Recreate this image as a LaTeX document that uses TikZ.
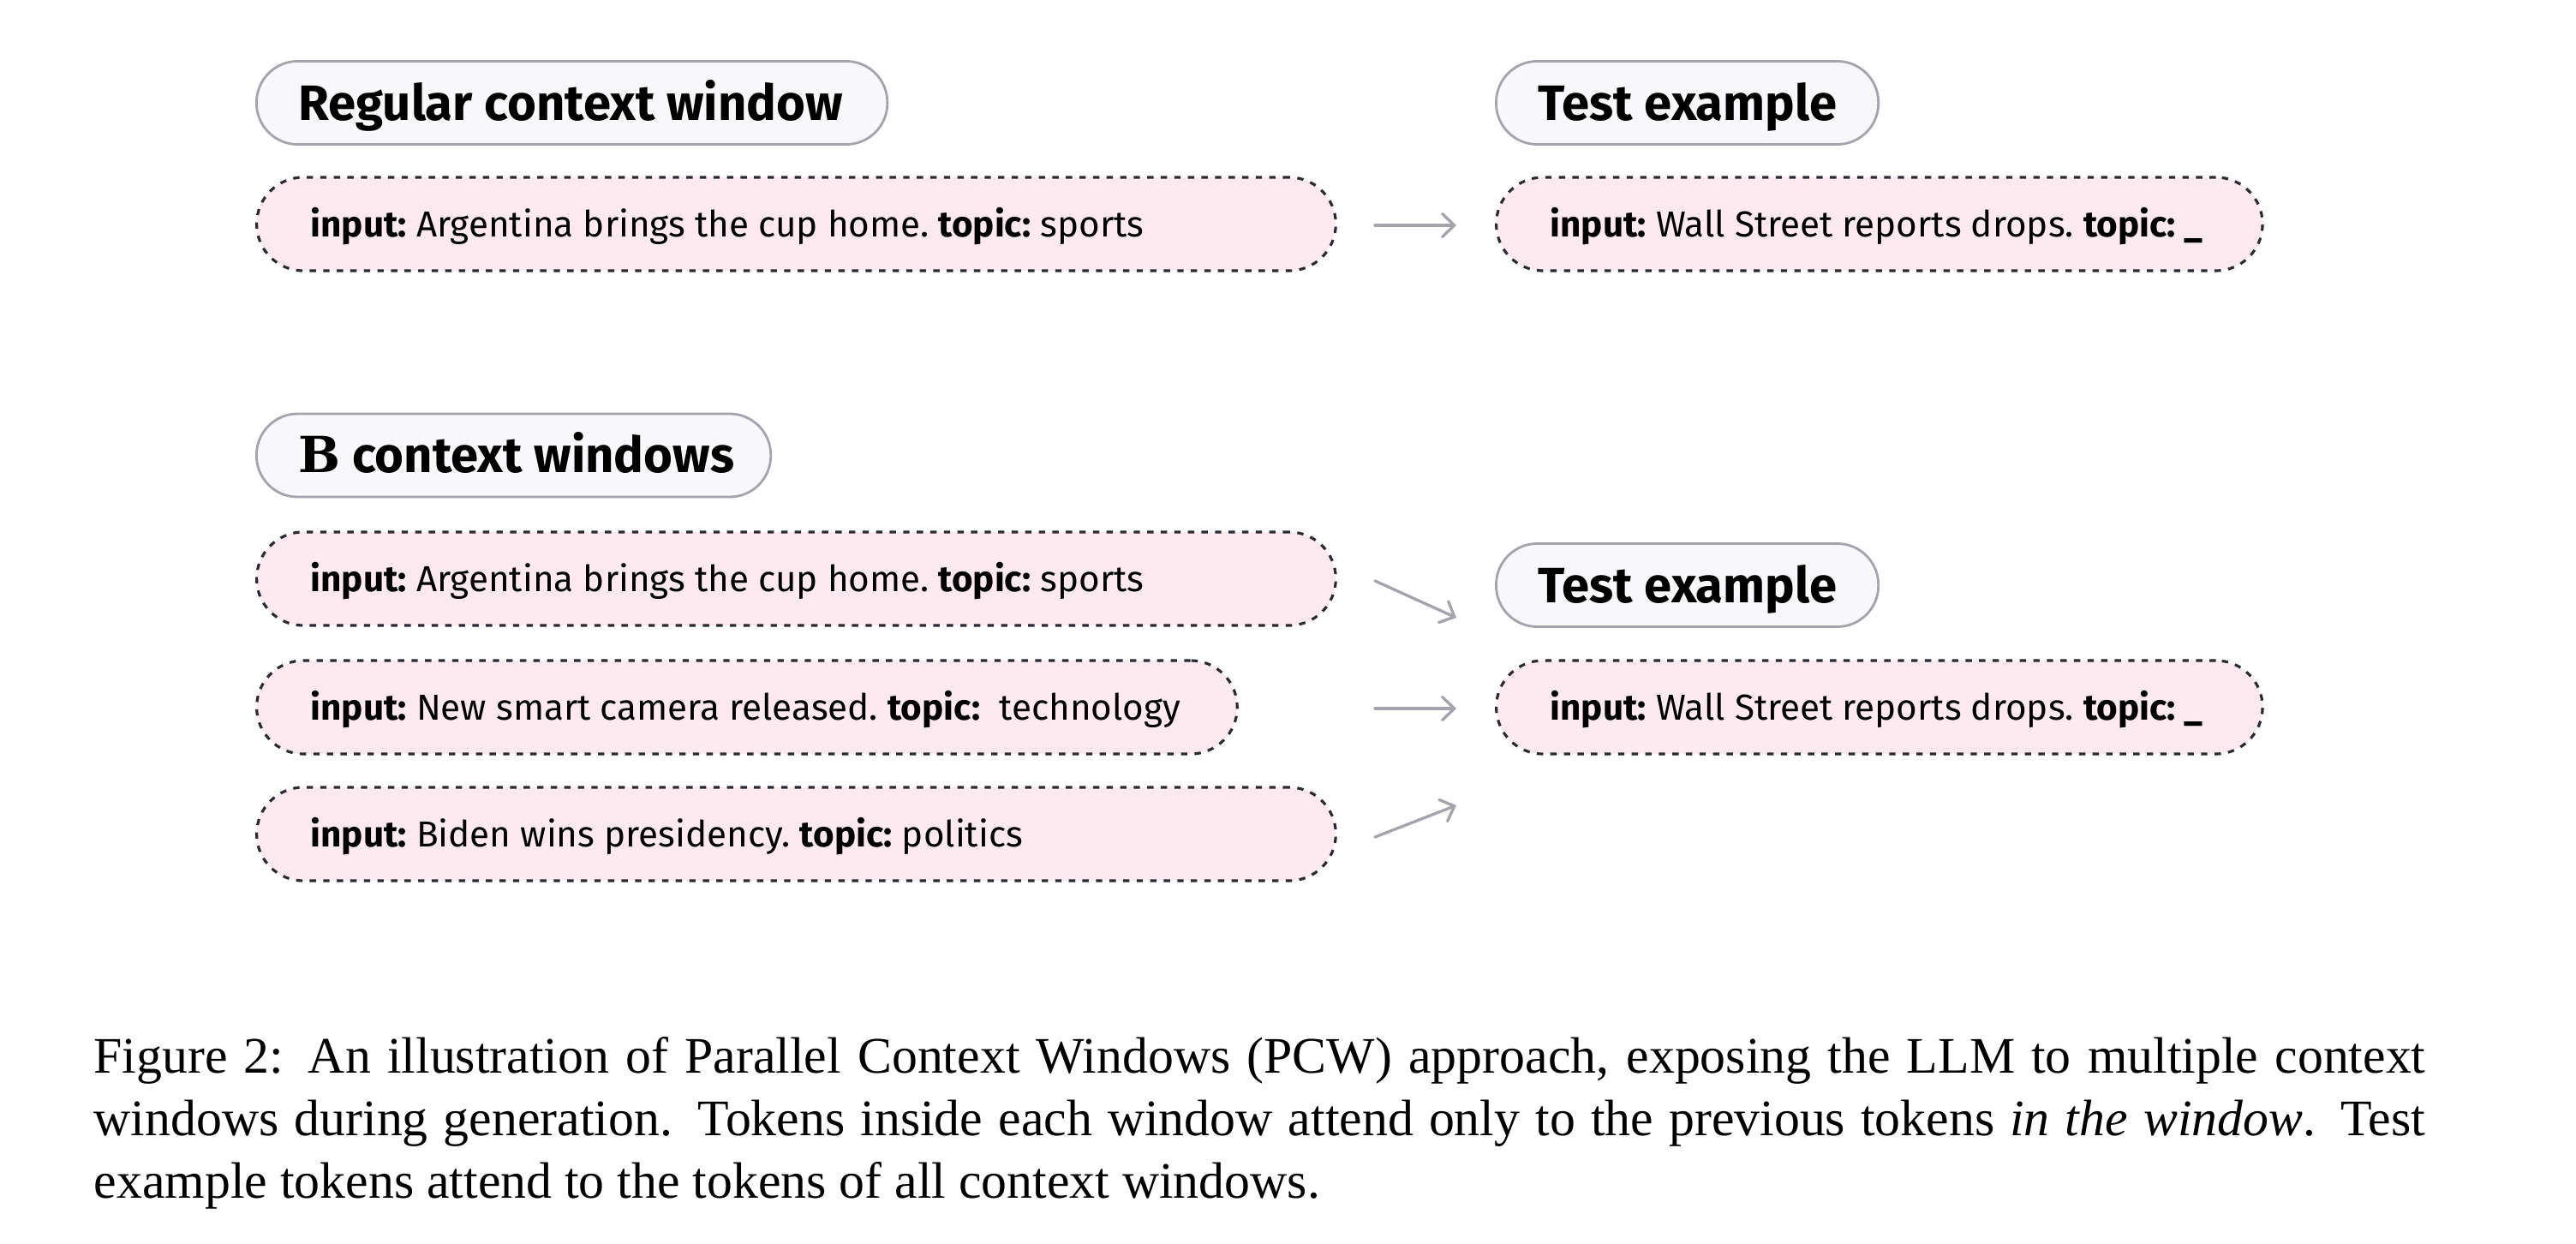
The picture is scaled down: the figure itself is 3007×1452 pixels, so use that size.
\documentclass[tikz,border=0pt]{standalone}
\usepackage{fontspec}
\setmainfont{Liberation Serif}
\newfontfamily\grot{Fira Sans}
\newfontfamily\slabb{DejaVu Serif}
\usetikzlibrary{arrows.meta}

\definecolor{pinkfill}{HTML}{FDEAF0}
\definecolor{hdrfill}{HTML}{F8F8FA}
\definecolor{hdrline}{HTML}{A4A4AC}
\definecolor{dashline}{HTML}{2A2A30}
\definecolor{arrowc}{HTML}{A4A4AC}

\newcommand{\leftbox}[2]{\makebox[#1][l]{#2}}

\begin{document}
\begin{tikzpicture}[x=0.01cm,y=-0.01cm,
  hdr/.style={draw=hdrline, fill=hdrfill, line width=0.8pt, rounded corners=0.48cm,
    minimum height=0.97cm, inner xsep=0.49cm, inner ysep=0pt, anchor=west,
    text height=14.7pt, text depth=3.3pt,
    font=\grot\bfseries\fontsize{16.5}{19}\selectfont},
  win/.style={draw=dashline, fill=pinkfill, line width=0.9pt, dash pattern=on 2.1pt off 2.4pt,
    rounded corners=0.545cm, minimum height=1.09cm, inner xsep=0.63cm, inner ysep=0pt,
    anchor=west, text height=10.7pt, text depth=2.4pt,
    font=\grot\frenchspacing\fontsize{12}{14}\selectfont},
  arr/.style={draw=arrowc, line width=0.95pt, line cap=round,
    -{Straight Barb[length=0.14cm,width=0.27cm,line cap=round]}},
]
\useasboundingbox (0,0) rectangle (3007,1452);

% --- Regular context window
\node[hdr] (h1) at (298,120) {\leftbox{6.38cm}{Regular context window}};
\node[win] (w1) at (298,261.5)
  {\leftbox{11.33cm}{\textbf{input:} Argentina brings the cup home. \textbf{topic:} sports}};
\node[hdr] (h2) at (1745,120) {\leftbox{3.48cm}{Test example}};
\node[win] (t1) at (1745,261.5)
  {\leftbox{7.68cm}{\textbf{input:} Wall Street reports drops. \textbf{topic: \_}}};

\coordinate (a1s) at (1605,263);
\coordinate (a1e) at (1700,263);
\draw[arr] (a1s) -- (a1e);

% --- B context windows
\node[hdr] (h3) at (298,531.5) {\leftbox{5.02cm}{{\slabb B} context windows}};
\node[win] (wa) at (298,675.5)
  {\leftbox{11.33cm}{\textbf{input:} Argentina brings the cup home. \textbf{topic:} sports}};
\node[win] (wb) at (298,825.5)
  {\leftbox{10.18cm}{\textbf{input:} New smart camera released. \textbf{topic:}\ \ technology}};
\node[win] (wc) at (298,973.5)
  {\leftbox{11.33cm}{\textbf{input:} Biden wins presidency. \textbf{topic:} politics}};

\node[hdr] (h4) at (1745,683) {\leftbox{3.48cm}{Test example}};
\node[win] (t2) at (1745,825.5)
  {\leftbox{7.68cm}{\textbf{input:} Wall Street reports drops. \textbf{topic: \_}}};

\coordinate (a2s) at (1605,678);
\coordinate (a2e) at (1700,721);
\coordinate (a3s) at (1605,827);
\coordinate (a3e) at (1700,827);
\coordinate (a4s) at (1605,977);
\coordinate (a4e) at (1700,940);
\draw[arr] (a2s) -- (a2e);
\draw[arr] (a3s) -- (a3e);
\draw[arr] (a4s) -- (a4e);

% --- caption
\node[anchor=north west, inner sep=0pt, text width=27.2cm, align=justify,
  font=\fontsize{17}{20.7}\selectfont] (cap) at (109,1210)
  {Figure 2: An illustration of Parallel Context Windows (PCW) approach, exposing the LLM to multiple context\linebreak
   windows during generation. Tokens inside each window attend only to the previous tokens \emph{in the window}. Test\linebreak
   example tokens attend to the tokens of all context windows.};
\end{tikzpicture}
\end{document}
